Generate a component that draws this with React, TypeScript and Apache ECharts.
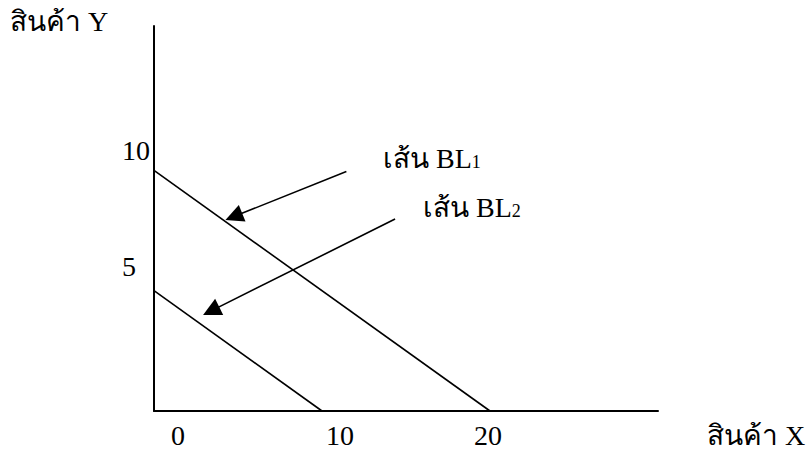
import React, { useEffect, useRef } from "react";
import * as echarts from "echarts";

// Budget lines (goods X on the horizontal axis, goods Y on the vertical axis)
const bl1Points: [number, number][] = [
  [0, 10],
  [20, 0],
];
const bl2Points: [number, number][] = [
  [0, 5],
  [10, 0],
];

// Pointer arrows: [from, to] in data units (the arrowhead is centred on "to")
const arrowBL1: [number, number][] = [
  [11.45, 9.95],
  [4.75, 8.08],
];
const arrowBL2: [number, number][] = [
  [14.35, 7.98],
  [3.4, 4.16],
];

// Tick labels
const xTickValues = [0, 10, 20];
const xTickLabels = ["0", "10", "20"];
const yTickValues = [10, 5];
const yTickLabels = ["10", "5"];

const xAxisTitle = "สินค้า X";
const yAxisTitle = "สินค้า Y";
const bl1Label = "เส้น BL";
const bl2Label = "เส้น BL";
const bl1Sub = "1";
const bl2Sub = "2";

const FONT = '"Liberation Serif", "Times New Roman", serif';
const FS = 28;

export default function App() {
  const ref = useRef<HTMLDivElement>(null);

  useEffect(() => {
    document.body.style.margin = "0";
    if (!ref.current) return;
    const chart = echarts.init(ref.current, null, { renderer: "svg" });

    const black = "#000";
    const base: any = {
      animation: false,
      backgroundColor: "#fff",
      grid: { left: 154, right: 153, top: 26, bottom: 39, containLabel: false },
      xAxis: {
        type: "value",
        min: 0,
        max: 30,
        axisLine: { show: true, onZero: false, lineStyle: { color: black, width: 2 } },
        axisTick: { show: false },
        axisLabel: { show: false },
        splitLine: { show: false },
      },
      yAxis: {
        type: "value",
        min: 0,
        max: 16,
        axisLine: { show: true, onZero: false, lineStyle: { color: black, width: 2 } },
        axisTick: { show: false },
        axisLabel: { show: false },
        splitLine: { show: false },
      },
      series: [
        {
          type: "line",
          data: bl1Points,
          symbol: "none",
          lineStyle: { color: black, width: 1.6 },
        },
        {
          type: "line",
          data: bl2Points,
          symbol: "none",
          lineStyle: { color: black, width: 1.6 },
        },
        {
          type: "lines",
          coordinateSystem: "cartesian2d",
          symbol: ["none", "triangle"],
          symbolSize: [16, 18],
          lineStyle: { color: black, width: 1.6, opacity: 1 },
          itemStyle: { color: black },
          data: [{ coords: arrowBL1 }, { coords: arrowBL2 }],
        },
      ],
    };
    chart.setOption(base);

    const textStyle = (text: string, align: string) => ({
      text,
      fill: black,
      font: `${FS}px ${FONT}`,
      lineHeight: FS,
      align,
      verticalAlign: "middle",
    });

    const graphics: any[] = [];
    xTickValues.forEach((v, i) => {
      const [px] = chart.convertToPixel({ gridIndex: 0 }, [v, 0]) as number[];
      const shift = [24, 18, -2][i];
      graphics.push({
        type: "text",
        x: px + shift,
        y: 435,
        style: textStyle(xTickLabels[i], "center"),
      });
    });
    yTickValues.forEach((v, i) => {
      const [, py] = chart.convertToPixel({ gridIndex: 0 }, [0, v]) as number[];
      const shift = [-20, -24][i];
      graphics.push({
        type: "text",
        x: 122,
        y: py + shift,
        style: textStyle(yTickLabels[i], "left"),
      });
    });

    const subRich = {
      a: { font: `${FS}px ${FONT}`, fill: black, color: black },
      s: { font: `${Math.round(FS * 0.65)}px ${FONT}`, fill: black, color: black, padding: [8, 0, 0, 0] },
    };

    graphics.push(
      { type: "text", x: 10, y: 21, style: textStyle(yAxisTitle, "left") },
      { type: "text", x: 707, y: 435, style: textStyle(xAxisTitle, "left") },
      {
        type: "text",
        x: 383,
        y: 158,
        style: {
          text: `{a|${bl1Label}}{s|${bl1Sub}}`,
          align: "left",
          verticalAlign: "middle",
          rich: subRich,
        },
      },
      {
        type: "text",
        x: 423,
        y: 207,
        style: {
          text: `{a|${bl2Label}}{s|${bl2Sub}}`,
          align: "left",
          verticalAlign: "middle",
          rich: subRich,
        },
      }
    );

    chart.setOption({ graphic: graphics });

    return () => chart.dispose();
  }, []);

  return <div ref={ref} style={{ width: 811, height: 450 }} />;
}
